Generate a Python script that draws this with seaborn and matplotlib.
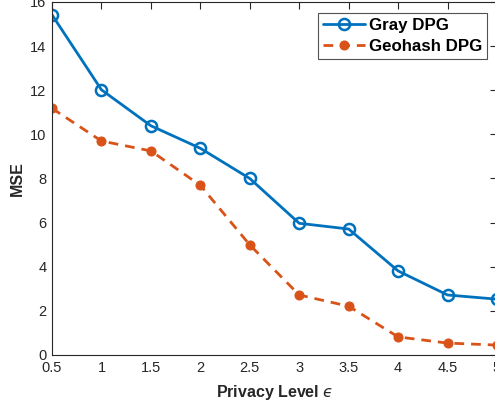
import matplotlib
matplotlib.use("Agg")
import matplotlib.pyplot as plt
import seaborn as sns
import pandas as pd

epsilon = [0.5, 1, 1.5, 2, 2.5, 3, 3.5, 4, 4.5, 5]
gray_dpg = [15.42, 12.02, 10.39, 9.37, 8.00, 5.97, 5.71, 3.81, 2.72, 2.53]
geohash_dpg = [11.18, 9.70, 9.25, 7.69, 4.99, 2.72, 2.21, 0.82, 0.54, 0.45]
x_ticks = [0.5, 1, 1.5, 2, 2.5, 3, 3.5, 4, 4.5, 5]
x_ticklabels = ["0.5", "1", "1.5", "2", "2.5", "3", "3.5", "4", "4.5", "5"]
y_ticks = [0, 2, 4, 6, 8, 10, 12, 14, 16]

sns.set_style("white")
plt.rcParams['font.family'] = ['Liberation Sans', 'DejaVu Sans']

fig = plt.figure(figsize=(4.95, 4.09), dpi=100)
ax = fig.add_axes([52 / 495, 54 / 409, 445 / 495, 353 / 409])

blue = "#0072BD"
orange = "#D95319"
axcol = "#262626"

df1 = pd.DataFrame({"eps": epsilon, "mse": gray_dpg})
df2 = pd.DataFrame({"eps": epsilon, "mse": geohash_dpg})

sns.lineplot(data=df1, x="eps", y="mse", ax=ax, color=blue, lw=2,
             marker="o", markersize=8, markerfacecolor="none",
             markeredgecolor=blue, markeredgewidth=1.8, label="Gray DPG")
sns.lineplot(data=df2, x="eps", y="mse", ax=ax, color=orange, lw=2,
             linestyle=(0, (3.5, 2.5)), marker="o", markersize=6.5,
             markerfacecolor=orange, markeredgecolor=orange,
             label="Geohash DPG")

ax.set_xlim(0.5, 5)
ax.set_ylim(0, 16)
ax.set_xticks(x_ticks)
ax.set_xticklabels(x_ticklabels)
ax.set_yticks(y_ticks)

ax.tick_params(direction="in", length=5, width=0.8, colors=axcol,
               labelsize=10.5, top=True, right=True, pad=4)
for s in ax.spines.values():
    s.set_color(axcol)
    s.set_linewidth(0.8)
    s.set_visible(True)

ax.set_xlabel("Privacy Level $\u03f5$", fontsize=11.5, fontweight="bold",
              color=axcol, labelpad=6)
ax.set_ylabel("MSE", fontsize=11.5, fontweight="bold", color=axcol, labelpad=4)

leg = ax.legend(loc="upper right", bbox_to_anchor=((487 - 52) / 445, 1 - 11 / 353),
                prop={"weight": "bold", "size": 12.2}, frameon=True,
                fancybox=False, edgecolor=axcol, handlelength=2.5,
                borderpad=0.3, labelspacing=0.35, handletextpad=0.2,
                borderaxespad=0.0)
leg.get_frame().set_linewidth(0.8)
for t in leg.get_texts():
    t.set_color("black")

fig.savefig("out.png", dpi=100)
